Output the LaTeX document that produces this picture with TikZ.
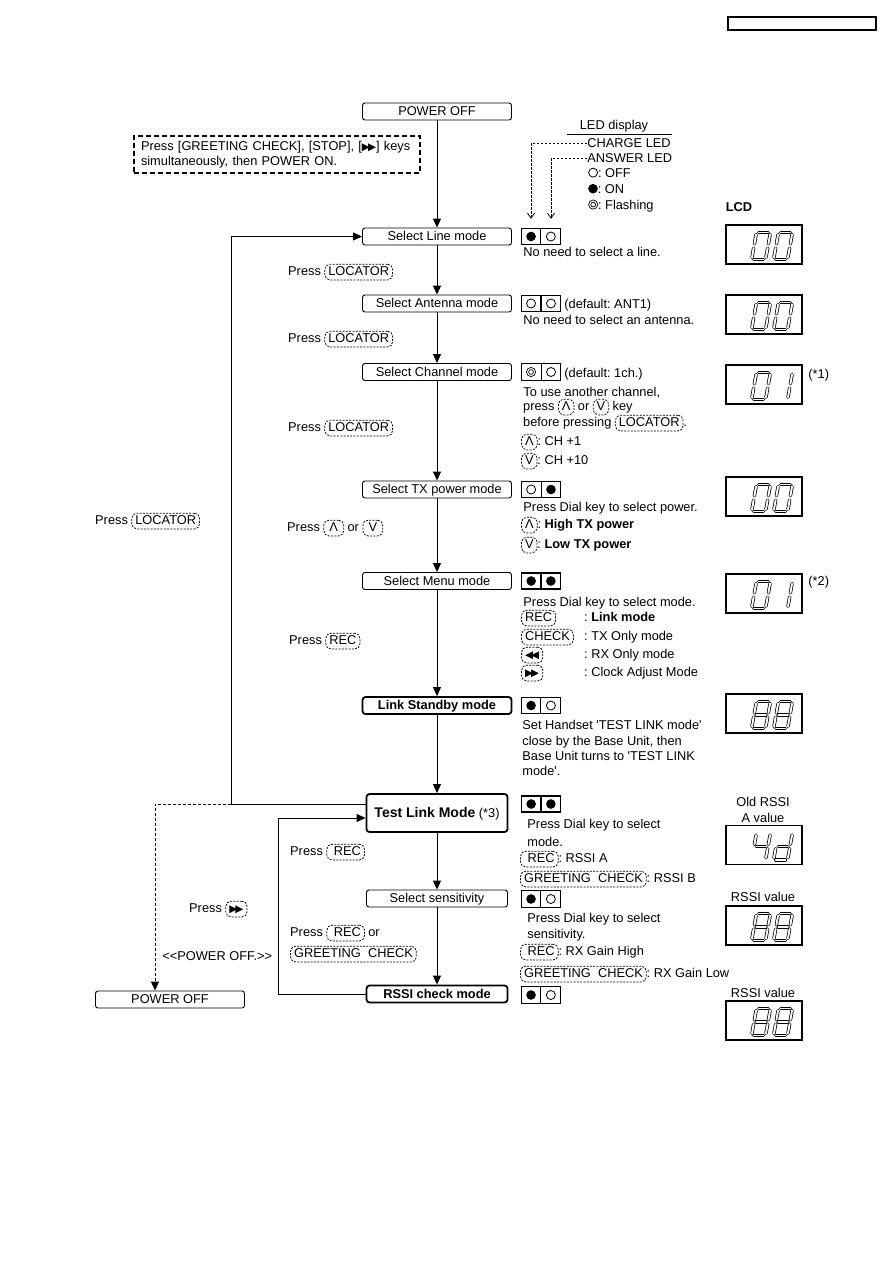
\documentclass[tikz,border=0pt]{standalone}
\usepackage{fontspec}
\setmainfont{Liberation Sans}[Ligatures=TeXOff]
\newfontfamily\symf{DejaVu Sans}
\usetikzlibrary{arrows.meta, shapes.multipart, calc}

\newcommand\mainfs{\fontsize{12.8}{15.5}\selectfont\frenchspacing}
\newcommand\keyb[1]{\tikz[baseline=(k.base)]\node[keybox] (k) {#1};}
\newcommand\ledon{\tikz\fill (0,0) circle (4.8pt);}
\newcommand\ledoff{\tikz\draw[line width=0.8pt] (0,0) circle (4.5pt);}
\newcommand\ledfl{\tikz\draw[line width=0.7pt] (0,0) circle (4.6pt) (0,0) circle (2.4pt);}
\newcommand\fwd{{\symf\fontsize{10.5}{10}\selectfont ▶\kern-2pt▶}}
\newcommand\rew{{\symf\fontsize{10.5}{10}\selectfont ◀\kern-2pt◀}}

% seven segment digits: x1/y1/x2/y2 per segment
\def\dzero{0/0/14/0, 14/0/14/13.5, 14/13.5/14/27, 0/27/14/27, 0/13.5/0/27, 0/0/0/13.5}
\def\done{14/0/14/13.5, 14/13.5/14/27}
\def\deight{0/0/14/0, 14/0/14/13.5, 14/13.5/14/27, 0/27/14/27, 0/13.5/0/27, 0/0/0/13.5, 0/13.5/14/13.5}
\def\dfour{0/0/0/13.5, 0/13.5/14/13.5, 14/0/14/13.5, 14/13.5/14/27}
\def\dd{14/0/14/13.5, 14/13.5/14/27, 0/27/14/27, 0/13.5/0/27, 0/13.5/14/13.5}
\newcommand\lcddig[3]{%
  \begin{scope}[shift={($(#1.north west)+(#2,8)$)}, xslant=0.18]
    \foreach \xa/\ya/\xb/\yb in #3 {\draw[seg] (\xa,\ya) -- (\xb,\yb);}
  \end{scope}}

\begin{document}
\begin{tikzpicture}[x=1pt, y=-1pt, line width=0.9pt,
  every node/.style={font=\mainfs},
  mode/.style={draw, rounded corners=2.5pt, minimum width=149pt, minimum height=17pt, inner sep=0,
               text height=9.3pt, text depth=0.5pt},
  boldmode/.style={mode, line width=1.8pt, rounded corners=3pt, font=\mainfs\bfseries},
  keybox/.style={draw, dash pattern=on 2pt off 1.3pt, rounded corners=5pt, line width=0.75pt,
                 inner xsep=3.5pt, inner ysep=2pt, text height=9.3pt, text depth=2.4pt},
  ledbox/.style={draw, line width=1.1pt, rectangle split, rectangle split horizontal,
                 rectangle split parts=2, inner xsep=4.5pt, inner ysep=3.2pt},
  lcd/.style={draw, line width=1.1pt, minimum width=76pt, minimum height=39pt, inner sep=0},
  seg/.style={double=white, double distance=1.9pt, line width=0.75pt, line cap=round,
              shorten <=2.2pt, shorten >=2.2pt},
  txt/.style={anchor=base west, inner sep=0},
  flow/.style={-{Triangle[length=9pt, width=8pt]}},
  ledarrow/.style={dash pattern=on 2.5pt off 1.5pt, line width=0.8pt,
                   -{Straight Barb[length=5pt, width=7pt]}, shorten >=9pt},
]
\useasboundingbox (0,0) rectangle (893,1263);

\node[draw, line width=1.2pt, minimum width=148pt, minimum height=13pt, inner sep=0] (hdr) at (802,23.5) {};

% main flow
\node[mode] (pwr) at (437,111.5) {POWER OFF};
\node[draw, dash pattern=on 5pt off 3pt, line width=1.2pt, minimum width=286pt, minimum height=37pt,
      text width=272pt, align=left, inner xsep=7pt] (hint) at (277,154.5)
  {Press [GREETING CHECK], [STOP], [\fwd] keys\\simultaneously, then POWER ON.};
\node[mode] (line) at (437,236.5) {Select Line mode};
\node[mode] (ant) at (437,303.5) {Select Antenna mode};
\node[mode] (chan) at (437,372) {Select Channel mode};
\node[mode] (tx) at (437,489.5) {Select TX power mode};
\node[mode] (menu) at (437,581) {Select Menu mode};
\node[boldmode] (standby) at (437,705.5) {Link Standby mode};
\node[boldmode, minimum width=141pt, minimum height=38pt] (test) at (437,813)
  {{\fontsize{14}{16}\selectfont Test Link Mode} \textmd{(*3)}};
\node[mode, minimum width=141pt] (sens) at (437,898.5) {Select sensitivity};
\node[boldmode, minimum width=141pt] (rssi) at (437,994) {RSSI check mode};
\node[mode] (off) at (170,999.5) {POWER OFF};

\draw[flow] (pwr) -- (line);
\draw[flow] (line) -- (ant);
\draw[flow] (ant) -- (chan);
\draw[flow] (chan) -- (tx);
\draw[flow] (tx) -- (menu);
\draw[flow] (menu) -- (standby);
\draw[flow] (standby) -- (test);
\draw[flow] (test) -- (sens);
\draw[flow] (sens) -- (rssi);

\coordinate (junc) at (231,804);
\coordinate (offtop) at ([xshift=-15pt]off.north);
\draw[flow] ([yshift=9pt]test.west) -- (junc) |- (line.west);
\draw[flow, dash pattern=on 3pt off 2pt] (junc) -| (offtop);
\draw[flow] (rssi.west) -- ++(-87,0) |- ([yshift=-5pt]test.west);

\node[txt] (p1) at (288,275.5) {Press \keyb{LOCATOR}};
\node[txt] (p2) at (288,342.5) {Press \keyb{LOCATOR}};
\node[txt] (p3) at (288,431.5) {Press \keyb{LOCATOR}};
\node[txt] (p4) at (287,531.5) {Press \keyb{\,Λ\,} or \keyb{\,V\,}};
\node[txt] (p5) at (289,644.5) {Press \keyb{REC}};
\node[txt] (p6) at (95,524.5) {Press \keyb{LOCATOR}};
\node[txt] (p7) at (290,855.5) {Press \keyb{\ REC\ }};
\node[txt] (p8) at (189,912.5) {Press \keyb{\fwd}};
\node[txt] (p9) at (290,936.5) {Press \keyb{\ REC\ } or};
\node[txt] (p10) at (290,957.5) {\keyb{GREETING\ \ CHECK}};
\node[txt] (p11) at (162,960.5) {<<POWER OFF.>>};

% LED legend
\node (leddisp) at (614,126) {LED display};
\draw (567,134) -- (672,134);
\node[txt] (charge) at (587,147.5) {CHARGE LED};
\node[txt] (answer) at (587,162.5) {ANSWER LED};
\node[txt] (legoff) at (588,177.5) {\ledoff: OFF};
\node[txt] (legon) at (588,193.5) {\ledon: ON};
\node[txt] (legfl) at (588,209.5) {\ledfl: Flashing};
\node[font=\mainfs\bfseries] (lcdtitle) at (739,207) {LCD};

% LED states and notes
\node[ledbox] (led1) at (541,236.5) {\ledon\nodepart{two}\ledoff};
\draw[ledarrow] (charge.west) -| ([xshift=-10pt]led1.north);
\draw[ledarrow] (answer.west) -| ([xshift=10pt]led1.north);
\node[txt] (n1) at (523,256.5) {No need to select a line.};

\node[ledbox] (led2) at (541,303.5) {\ledoff\nodepart{two}\ledoff};
\node[txt] (n2a) at (564,308) {(default: ANT1)};
\node[txt] (n2b) at (523,324.5) {No need to select an antenna.};

\node[ledbox] (led3) at (541,372) {\ledfl\nodepart{two}\ledoff};
\node[txt] (n3a) at (564,377) {(default: 1ch.)};
\node[txt] (n3b) at (523,396) {To use another channel,};
\node[txt] (n3c) at (523,410.5) {press \keyb{Λ} or \keyb{V} key};
\node[txt] (n3d) at (523,426.5) {before pressing \keyb{LOCATOR}.};
\node[txt] (n3e) at (521,445.5) {\keyb{Λ}: CH +1};
\node[txt] (n3f) at (521,464.5) {\keyb{V}: CH +10};

\node[ledbox] (led4) at (541,489.5) {\ledoff\nodepart{two}\ledon};
\node[txt] (n4a) at (523,511.5) {Press Dial key to select power.};
\node[txt] (n4b) at (521,528.5) {\keyb{Λ}: \textbf{High TX power}};
\node[txt] (n4c) at (521,548.5) {\keyb{V}: \textbf{Low TX power}};

\node[ledbox] (led5) at (541,581) {\ledon\nodepart{two}\ledon};
\node[txt] (n5a) at (523,606.5) {Press Dial key to select mode.};
\node[txt] (n5b) at (521,621.5) {\makebox[63pt][l]{\keyb{REC}}: \textbf{Link mode}};
\node[txt] (n5c) at (521,640.5) {\makebox[63pt][l]{\keyb{CHECK}}: TX Only mode};
\node[txt] (n5d) at (521,658.5) {\makebox[63pt][l]{\keyb{\rew}}: RX Only mode};
\node[txt] (n5e) at (521,676.5) {\makebox[63pt][l]{\keyb{\fwd}}: Clock Adjust Mode};

\node[ledbox] (led6) at (541,705.5) {\ledon\nodepart{two}\ledoff};
\node[txt] (n6a) at (522,729.5) {Set Handset 'TEST LINK mode'};
\node[txt] (n6b) at (522,745.5) {close by the Base Unit, then};
\node[txt] (n6c) at (522,760.5) {Base Unit turns to 'TEST LINK};
\node[txt] (n6d) at (522,775.5) {mode'.};

\node[ledbox] (led7) at (541,804) {\ledon\nodepart{two}\ledon};
\node[txt] (n7a) at (527,828.5) {Press Dial key to select};
\node[txt] (n7b) at (527,846.5) {mode.};
\node[txt] (n7c) at (520,862.5) {\keyb{\ REC\ }: RSSI A};
\node[txt] (n7d) at (520,882.5) {\keyb{GREETING\ \ CHECK}: RSSI B};

\node[ledbox] (led8) at (541,899) {\ledon\nodepart{two}\ledoff};
\node[txt] (n8a) at (527,922.5) {Press Dial key to select};
\node[txt] (n8b) at (527,938.5) {sensitivity.};
\node[txt] (n8c) at (520,955.5) {\keyb{\ REC\ }: RX Gain High};
\node[txt] (n8d) at (520,977.5) {\keyb{GREETING\ \ CHECK}: RX Gain Low};

\node[ledbox] (led9) at (541,995) {\ledon\nodepart{two}\ledoff};

% LCD panels
\node[lcd] (lcd1) at (764,244.5) {};
\lcddig{lcd1}{31}{\dzero} \lcddig{lcd1}{53}{\dzero}
\node[lcd] (lcd2) at (764,314.5) {};
\lcddig{lcd2}{31}{\dzero} \lcddig{lcd2}{53}{\dzero}
\node[lcd] (lcd3) at (764,384.5) {};
\lcddig{lcd3}{31}{\dzero} \lcddig{lcd3}{53}{\done}
\node[txt] (note1) at (808,378) {(*1)};
\node[lcd] (lcd4) at (764,496.5) {};
\lcddig{lcd4}{31}{\dzero} \lcddig{lcd4}{53}{\dzero}
\node[lcd] (lcd5) at (764,593.5) {};
\lcddig{lcd5}{31}{\dzero} \lcddig{lcd5}{53}{\done}
\node[txt] (note2) at (808,585.5) {(*2)};
\node[lcd] (lcd6) at (764,713.5) {};
\lcddig{lcd6}{31}{\deight} \lcddig{lcd6}{53}{\deight}
\node[align=center, inner sep=0] (old) at (763,810) {Old RSSI\\A value};
\node[lcd] (lcd7) at (764,845) {};
\lcddig{lcd7}{31}{\dfour} \lcddig{lcd7}{53}{\dd}
\node (rv1) at (763,897) {RSSI value};
\node[lcd] (lcd8) at (764,925.5) {};
\lcddig{lcd8}{31}{\deight} \lcddig{lcd8}{53}{\deight}
\node (rv2) at (763,993) {RSSI value};
\node[lcd] (lcd9) at (764,1020.5) {};
\lcddig{lcd9}{31}{\deight} \lcddig{lcd9}{53}{\deight}
\end{tikzpicture}
\end{document}
